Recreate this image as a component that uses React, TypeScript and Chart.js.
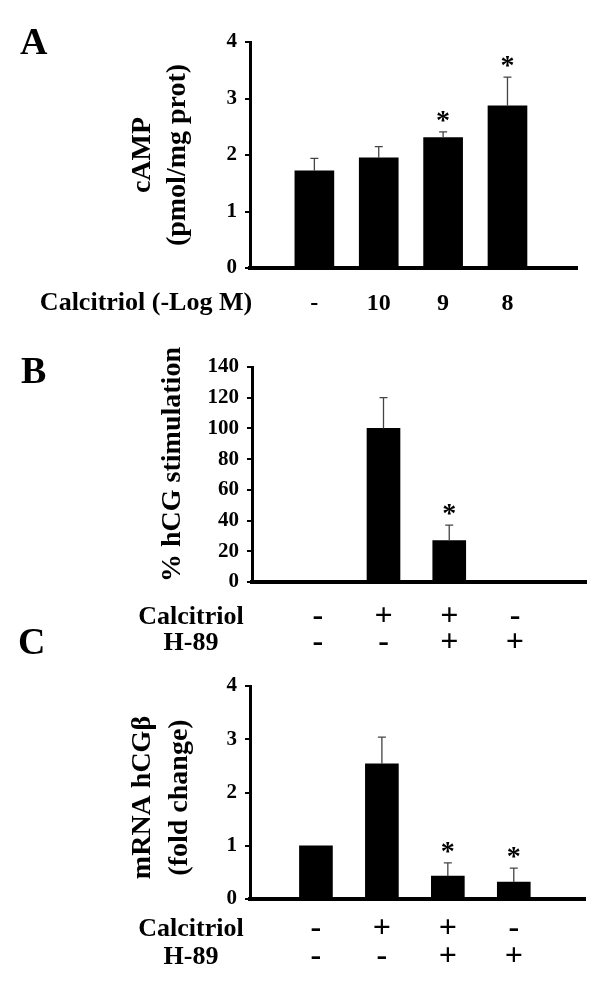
import React, { useEffect, useRef } from "react";
import { Chart, registerables } from "chart.js";

Chart.register(...registerables);

const FONT = "'Liberation Serif', 'Times New Roman', serif";

// ---------- Panel A data ----------
const aDoseLabels = ["-", "10", "9", "8"];
const aValues = [1.72, 1.95, 2.31, 2.87];
const aErrors = [0.22, 0.2, 0.1, 0.51];
const aSignificant = [false, false, true, true];
const aTitle = ["cAMP", "(pmol/mg prot)"];
const aRowNames = ["Calcitriol (-Log M)"];

// ---------- Panel B data ----------
const bCalcitriol = ["-", "+", "+", "-"];
const bH89 = ["-", "-", "+", "+"];
const bValues: (number | null)[] = [null, 100, 27, null];
const bErrors: (number | null)[] = [null, 20, 10, null];
const bSignificant = [false, false, true, false];
const bTitle = ["% hCG stimulation"];
const bRowNames = ["Calcitriol", "H-89"];

// ---------- Panel C data ----------
const cCalcitriol = ["-", "+", "+", "-"];
const cH89 = ["-", "-", "+", "+"];
const cValues = [1.0, 2.54, 0.43, 0.32];
const cErrors = [0, 0.5, 0.25, 0.26];
const cSignificant = [false, false, true, true];
const cTitle = ["mRNA hCG\u03b2", "(fold change)"];
const cRowNames = ["Calcitriol", "H-89"];

type PanelCfg = {
  letter: string;
  letterTop: number;
  letterLeft: number;
  top: number;
  height: number;
  axisLeft: number;
  plotRight: number;
  plotTop: number;
  plotBottom: number;
  values: (number | null)[];
  errors: (number | null)[];
  sig: boolean[];
  rows: string[][];
  rowNames: string[];
  rowNameX: number;
  yMax: number;
  yStep: number;
  barThickness: number;
  title: string[];
  titleX: number[];
  titleDy: number;
  xPad: number;
  rowLineHeight: number;
  tickSize: number;
};

const panels: PanelCfg[] = [
  {
    letter: "A",
    letterTop: 22,
    letterLeft: 20,
    top: 0,
    height: 330,
    axisLeft: 250,
    plotRight: 577,
    plotTop: 42,
    plotBottom: 268,
    values: aValues,
    errors: aErrors,
    sig: aSignificant,
    rows: [aDoseLabels],
    rowNames: aRowNames,
    rowNameX: 146,
    yMax: 4,
    yStep: 1,
    barThickness: 39,
    title: aTitle,
    titleX: [-107, -72],
    titleDy: 0,
    xPad: 22,
    rowLineHeight: 27,
    tickSize: 24,
  },
  {
    letter: "B",
    letterTop: 351,
    letterLeft: 21,
    top: 330,
    height: 330,
    axisLeft: 252,
    plotRight: 586,
    plotTop: 37,
    plotBottom: 252,
    values: bValues,
    errors: bErrors,
    sig: bSignificant,
    rows: [bCalcitriol, bH89],
    rowNames: bRowNames,
    rowNameX: 191,
    yMax: 140,
    yStep: 20,
    barThickness: 33,
    title: bTitle,
    titleX: [-79],
    titleDy: -10,
    xPad: 22,
    rowLineHeight: 26,
    tickSize: 32,
  },
  {
    letter: "C",
    letterTop: 622,
    letterLeft: 18,
    top: 660,
    height: 331,
    axisLeft: 250,
    plotRight: 585,
    plotTop: 26,
    plotBottom: 239,
    values: cValues,
    errors: cErrors,
    sig: cSignificant,
    rows: [cCalcitriol, cH89],
    rowNames: cRowNames,
    rowNameX: 191,
    yMax: 4,
    yStep: 1,
    barThickness: 33,
    title: cTitle,
    titleX: [-107, -70],
    titleDy: 5,
    xPad: 16,
    rowLineHeight: 28,
    tickSize: 32,
  },
];

function makeOverlay(cfg: PanelCfg) {
  return {
    id: "overlay" + cfg.letter,
    afterDatasetsDraw(chart: any) {
      const { ctx, chartArea } = chart;
      const x = chart.scales.x;
      const y = chart.scales.y;
      ctx.save();
      // error bars + significance marks
      cfg.values.forEach((v, i) => {
        if (v == null) return;
        const px = x.getPixelForValue(i + 1);
        const e = cfg.errors[i] || 0;
        const base = y.getPixelForValue(v);
        const top = y.getPixelForValue(v + e);
        if (e > 0) {
          ctx.strokeStyle = "#444";
          ctx.lineWidth = 1.3;
          ctx.beginPath();
          ctx.moveTo(px, base);
          ctx.lineTo(px, top);
          ctx.moveTo(px - 4, top);
          ctx.lineTo(px + 4, top);
          ctx.stroke();
        }
        if (cfg.sig[i]) {
          ctx.fillStyle = "#000";
          ctx.font = `bold 28px ${FONT}`;
          ctx.textAlign = "center";
          ctx.textBaseline = "alphabetic";
          ctx.fillText("*", px, top - 3);
        }
      });
      // y-axis title
      ctx.fillStyle = "#000";
      ctx.font = `bold 28px ${FONT}`;
      ctx.textAlign = "center";
      ctx.textBaseline = "middle";
      const cy = (chartArea.top + chartArea.bottom) / 2 + cfg.titleDy;
      cfg.title.forEach((line, k) => {
        ctx.save();
        ctx.translate(chartArea.left + cfg.titleX[k], cy);
        ctx.rotate(-Math.PI / 2);
        ctx.fillText(line, 0, 0);
        ctx.restore();
      });
      // row names under the x axis
      ctx.font = `bold 26px ${FONT}`;
      cfg.rowNames.forEach((name, k) => {
        const ry = chartArea.bottom + cfg.xPad + cfg.rowLineHeight * (k + 0.5);
        ctx.fillText(name, cfg.rowNameX, ry);
      });
      ctx.restore();
    },
  };
}

function Panel({ cfg }: { cfg: PanelCfg }) {
  const ref = useRef<HTMLCanvasElement>(null);
  useEffect(() => {
    const positions = cfg.values.map((_, i) => i + 1);
    const chart = new Chart(ref.current as HTMLCanvasElement, {
      type: "bar",
      data: {
        datasets: [
          {
            data: cfg.values.map((v, i) => ({ x: positions[i], y: v })) as any,
            backgroundColor: "#000",
            borderWidth: 0,
            barThickness: cfg.barThickness,
          },
        ],
      },
      plugins: [makeOverlay(cfg)],
      options: {
        animation: false,
        responsive: false,
        devicePixelRatio: 1,
        layout: {
          padding: { top: cfg.plotTop, right: 600 - cfg.plotRight, left: 0, bottom: 0 },
        },
        plugins: { legend: { display: false }, tooltip: { enabled: false } },
        scales: {
          x: {
            type: "linear",
            min: 0,
            max: 5.08,
            offset: false,
            grid: { display: false, drawTicks: false },
            border: { display: true, color: "#000", width: 4 },
            afterBuildTicks: (s: any) => {
              s.ticks = positions.map((p) => ({ value: p }));
            },
            afterFit: (s: any) => {
              s.height = cfg.height - cfg.plotBottom;
            },
            ticks: {
              autoSkip: false,
              maxRotation: 0,
              minRotation: 0,
              padding: cfg.xPad,
              color: "#000",
              font: {
                family: FONT,
                size: cfg.tickSize,
                weight: "bold",
                lineHeight: cfg.rowLineHeight / cfg.tickSize,
              },
              callback: (v: any) => {
                const i = Math.round(Number(v)) - 1;
                return cfg.rows.map((r) => r[i]);
              },
            },
          } as any,
          y: {
            min: 0,
            max: cfg.yMax,
            ticks: {
              stepSize: cfg.yStep,
              color: "#000",
              padding: 8,
              font: { family: FONT, size: 21, weight: "bold" },
            },
            grid: {
              display: true,
              drawOnChartArea: false,
              drawTicks: true,
              tickLength: 5,
              color: "#000",
              lineWidth: 2,
            },
            border: { display: true, color: "#000", width: 3 },
            afterFit: (s: any) => {
              s.width = cfg.axisLeft;
            },
          } as any,
        },
      },
    });
    return () => chart.destroy();
  }, []);
  return (
    <div style={{ position: "absolute", left: 0, top: cfg.top, width: 600, height: cfg.height }}>
      <canvas
        ref={ref}
        width={600}
        height={cfg.height}
        style={{ width: 600, height: cfg.height, display: "block" }}
      />
    </div>
  );
}

export default function App() {
  return (
    <div
      style={{
        position: "absolute",
        left: 0,
        top: 0,
        width: 600,
        height: 991,
        background: "#fff",
        overflow: "hidden",
      }}
    >
      {panels.map((p) => (
        <Panel key={p.letter} cfg={p} />
      ))}
      {panels.map((p) => (
        <div
          key={"L" + p.letter}
          style={{
            position: "absolute",
            left: p.letterLeft,
            top: p.letterTop,
            font: `bold 38px ${FONT}`,
            lineHeight: "38px",
            color: "#000",
          }}
        >
          {p.letter}
        </div>
      ))}
    </div>
  );
}
